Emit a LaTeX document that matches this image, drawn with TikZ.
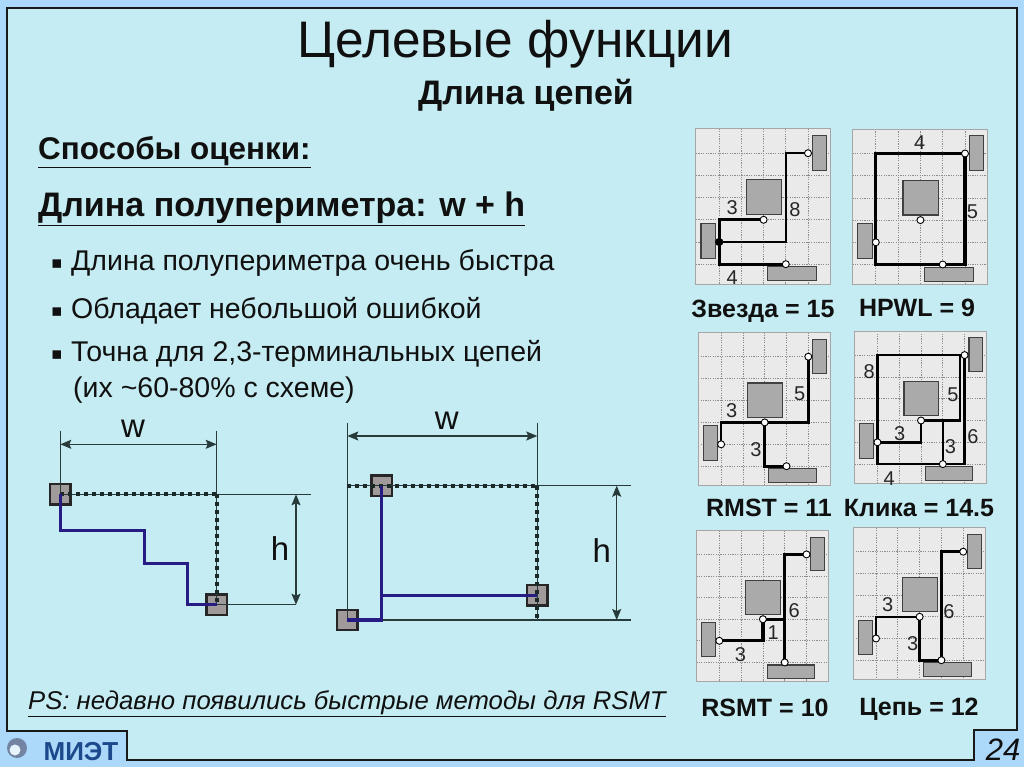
\documentclass[tikz,border=0pt]{standalone}
\usepackage{fontspec}
\setmainfont{Liberation Sans}
\newfontfamily\symfont{DejaVu Sans}
\usetikzlibrary{arrows.meta, positioning, calc}
\definecolor{bandblue}{RGB}{172,216,250}
\definecolor{slidebg}{RGB}{197,236,242}
\definecolor{inkdark}{RGB}{16,16,16}
\definecolor{dimline}{RGB}{40,58,58}
\definecolor{wireblue}{RGB}{38,28,132}
\definecolor{termgray}{RGB}{160,154,154}
\definecolor{cellbg}{RGB}{234,234,234}
\definecolor{blockgray}{RGB}{170,170,170}
\definecolor{logoblue}{RGB}{28,72,140}
\tikzset{
  txt/.style={anchor=base west,inner sep=0pt,text=inkdark},
  mid/.style={anchor=base,inner sep=0pt,text=inkdark},
  bodytxt/.style={txt,font=\fontsize{28.5}{30}\selectfont},
  bullet/.style={anchor=base,inner sep=0pt,text=inkdark,font=\symfont\fontsize{17}{17}\selectfont},
  captxt/.style={mid,font=\bfseries\fontsize{25}{27}\selectfont},
  numlab/.style={inner sep=0pt,text=black!85,font=\fontsize{20}{22}\selectfont},
  dimlab/.style={mid,font=\fontsize{33}{36}\selectfont},
  term/.style={draw=black!85,line width=2.2pt,fill=termgray,minimum size=20.5pt,inner sep=0pt},
  ext/.style={draw=dimline,line width=1.2pt},
  dimarrow/.style={draw=dimline,line width=1.2pt,{Stealth[length=11pt,width=9pt,inset=2pt]}-{Stealth[length=11pt,width=9pt,inset=2pt]}},
  bluewire/.style={draw=wireblue,line width=3.4pt,line join=miter},
  pin/.style={circle,draw=black,fill=white,line width=0.9pt,minimum size=7pt,inner sep=0pt},
  netwire/.style={draw=black,line width=2.6pt,line join=miter},
  fatwire/.style={draw=black,line width=3.2pt,line join=miter},
  block/.style={draw=black!75,line width=1.1pt,fill=blockgray},
}
% dotted measuring line
\newcommand{\dotline}[2]{%
  \draw[ext] (#1) -- (#2);
  \draw[draw=dimline!70!black,line width=3.8pt,dash pattern=on 4pt off 4pt] (#1) -- (#2);
}
% cell with blocks, grid units
\newcommand{\netpanel}[1]{%
  \fill[cellbg] (-0.05,-0.1) rectangle (6,6.9);
  \foreach \gi in {1,...,5}
    \draw[black!45,line width=0.7pt,dash pattern=on 1.2pt off 1.2pt] (\gi,-0.1) -- (\gi,6.9);
  \foreach \gj in {1,...,6}
    \draw[black!45,line width=0.7pt,dash pattern=on 1.2pt off 1.2pt] (-0.05,\gj) -- (6,\gj);
  \draw[black!35,line width=1pt] (-0.05,-0.1) rectangle (6,6.9);
  \draw[block] (5.2,0.2) rectangle (5.84,1.76);
  \draw[block] (2.22,2.2) rectangle (3.8,3.77);
  \draw[block] (0.18,4.15) rectangle (0.84,5.73);
  \draw[block] (3.19,6.12) rectangle (5.38,6.75);
  \coordinate (#1-a) at (5,1);
  \coordinate (#1-b) at (3,4);
  \coordinate (#1-c) at (1,5);
  \coordinate (#1-d) at (4,6);
}
\newcommand{\netpins}[1]{%
  \node[pin] (#1-pa) at (#1-a) {};
  \node[pin] (#1-pb) at (#1-b) {};
  \node[pin] (#1-pc) at (#1-c) {};
  \node[pin] (#1-pd) at (#1-d) {};
}

\begin{document}
\begin{tikzpicture}[x=1pt,y=-1pt,>=Stealth]
  \useasboundingbox (0,0) rectangle (1024,767);
  % slide frame
  \fill[bandblue] (0,0) rectangle (1024,767);
  \draw[black!90,line width=2pt,fill=slidebg]
    (6.5,8) -- (1017,8) -- (1017,730) -- (974,730) -- (974,759.5)
    -- (127,759.5) -- (127,730.5) -- (6.5,730.5) -- cycle;

  % headings
  \node[mid,font=\fontsize{51.4}{54}\selectfont] (title) at (515,58) {Целевые функции};
  \node[mid,font=\bfseries\fontsize{34}{36}\selectfont] (subtitle) at (526,105) {Длина цепей};
  \node[txt,font=\bfseries\fontsize{31.4}{34}\selectfont] (methods) at (38,160) {\underline{Способы оценки:}};
  \node[txt,font=\fontsize{34}{36}\selectfont] (hpwltxt) at (38,217)
    {\underline{\textbf{Длина полупериметра:} \textbf{w + h}}};

  % bullet list
  \node[bullet] (b1) at (57,268) {▪};
  \node[bodytxt] (l1) at (71,270) {Длина полупериметра очень быстра};
  \node[bullet] (b2) at (57,316) {▪};
  \node[bodytxt] (l2) at (71,318) {Обладает небольшой ошибкой};
  \node[bullet] (b3) at (57,359) {▪};
  \node[bodytxt] (l3) at (71,361) {Точна для 2,3-терминальных цепей};
  \node[bodytxt] (l4) at (73,397) {(их \textasciitilde60-80\% с схеме)};

  % left measure
  \node[term] (sqa) at (60.3,494.3) {};
  \node[term] (sqb) at (216.7,604.7) {};
  \coordinate (lefttop) at (60.3,431);
  \coordinate (righttop) at (216.7,431);
  \coordinate (corner) at (216.7,494.3);
  \coordinate (lineend) at (311,494.3);
  \coordinate (lineendb) at (296,604.7);
  \draw[ext] (lefttop) -- (sqa.center);
  \draw[ext] (righttop) -- (corner);
  \draw[ext] (corner) -- (lineend);
  \draw[ext] (sqb.center) -- (lineendb);
  \dotline{sqa.center}{corner}
  \dotline{corner}{sqb.center}
  \coordinate (wl) at (60.3,444.3);
  \coordinate (wr) at (216.7,444.3);
  \draw[dimarrow] (wl) -- (wr);
  \coordinate (ht) at (296,494.3);
  \draw[dimarrow] (ht) -- (lineendb);
  \node[dimlab] (wlab) at (133,437) {w};
  \node[dimlab] (hlab) at (280,560) {h};
  \draw[bluewire] (sqa.center) -- (60.3,530.3) -- (144.7,530.3) -- (144.7,563.7)
    -- (187.3,563.7) -- (187.3,604.7) -- (sqb.center);

  % right measure
  \node[term] (sqt) at (381.7,485.7) {};
  \node[term] (sqr) at (537.3,595.3) {};
  \node[term] (sql) at (347.3,620) {};
  \coordinate (ltop) at (347.3,423);
  \coordinate (rtop) at (537.3,423);
  \coordinate (topleft) at (347.3,485.7);
  \coordinate (rcorner) at (537.3,485.7);
  \coordinate (rbot) at (537.3,620);
  \coordinate (rline) at (631,485.7);
  \coordinate (rlineb) at (631,620);
  \draw[ext] (ltop) -- (sql.center);
  \draw[ext] (rtop) -- (rcorner);
  \draw[ext] (rcorner) -- (rline);
  \draw[ext] (sql.center) -- (rlineb);
  \dotline{topleft}{rcorner}
  \dotline{rcorner}{rbot}
  \coordinate (wl2) at (347.3,436);
  \coordinate (wr2) at (537.3,436);
  \draw[dimarrow] (wl2) -- (wr2);
  \coordinate (ht2) at (616.7,485.7);
  \coordinate (hb2) at (616.7,620);
  \draw[dimarrow] (ht2) -- (hb2);
  \node[dimlab] (wlab2) at (446.7,429) {w};
  \node[dimlab] (hlab2) at (601.7,562) {h};
  \coordinate (bend) at (381.7,620);
  \draw[bluewire] (sqt.center) -- (bend) -- (sql.center);
  \draw[bluewire] (381.7,595.3) -- (sqr.center);

  % note
  \node[txt,font=\itshape\fontsize{25.7}{28}\selectfont] (note) at (28,709)
    {\underline{PS: недавно появились быстрые методы для RSMT}};

  % star
  \begin{scope}[shift={(697,131)},x=22.2pt,y=-22.2pt]
    \netpanel{star}
    \coordinate (star-j) at (4,5);
    \draw[netwire] (star-c) |- (star-b);
    \draw[netwire] (star-c) -- (star-j) |- (star-a);
    \draw[netwire] (star-c) |- (star-d);
    \netpins{star}
    \node[pin,fill=black] (star-dot) at (star-c) {};
    \node[numlab] (s3) at (1.58,3.44) {3};
    \node[numlab] (s8) at (4.41,3.53) {8};
    \node[numlab] (s4) at (1.59,6.61) {4};
  \end{scope}

  % hpwl
  \begin{scope}[shift={(853.5,131.3)},x=22.3pt,y=-22.2pt]
    \netpanel{hp}
    \draw[fatwire] (hp-c) |- (hp-a);
    \draw[fatwire] (hp-a) |- (hp-d);
    \draw[fatwire] (hp-d) -| (hp-c);
    \netpins{hp}
    \node[numlab] (h4) at (2.97,0.53) {4};
    \node[numlab] (h5) at (5.33,3.6) {5};
  \end{scope}

  % rmst
  \begin{scope}[shift={(699.3,334.8)},x=21.8pt,y=-21.9pt]
    \netpanel{rm}
    \draw[netwire] (rm-c) |- (rm-b);
    \draw[netwire] (rm-b) -| (rm-a);
    \draw[netwire] (rm-b) |- (rm-d);
    \netpins{rm}
    \node[numlab] (r3a) at (1.49,3.48) {3};
    \node[numlab] (r5) at (4.6,2.69) {5};
    \node[numlab] (r3b) at (2.6,5.23) {3};
  \end{scope}

  % clique
  \begin{scope}[shift={(855.6,333.3)},x=21.8pt,y=-21.8pt]
    \netpanel{cl}
    \coordinate (cl-e) at (4.78,1);
    \coordinate (cl-f) at (4.78,4);
    \coordinate (cl-g) at (4,4);
    \coordinate (cl-h) at (3,5);
    \draw[netwire] (cl-c) |- (cl-a);
    \draw[netwire] (cl-a) |- (cl-d);
    \draw[netwire] (cl-d) -| (cl-c);
    \draw[netwire] (cl-e) -- (cl-f) -- (cl-b);
    \draw[netwire] (cl-b) -- (cl-h) -- (cl-c);
    \draw[netwire] (cl-g) -- (cl-d);
    \draw[fatwire] (cl-b) -- (cl-g);
    \netpins{cl}
    \node[numlab] (c8) at (0.62,1.77) {8};
    \node[numlab] (c5) at (4.46,2.8) {5};
    \node[numlab] (c3a) at (2.02,4.62) {3};
    \node[numlab] (c3b) at (4.35,5.2) {3};
    \node[numlab] (c6) at (5.38,4.72) {6};
    \node[numlab] (c4) at (1.54,6.66) {4};
  \end{scope}

  % rsmt
  \begin{scope}[shift={(697.5,532.8)},x=21.8pt,y=-21.6pt]
    \netpanel{rs}
    \coordinate (rs-j) at (4,4);
    \draw[fatwire] (rs-c) -| (rs-b);
    \draw[netwire] (rs-b) -- (rs-j);
    \draw[netwire] (rs-d) |- (rs-a);
    \netpins{rs}
    \node[numlab] (m6) at (4.43,3.61) {6};
    \node[numlab] (m1) at (3.47,4.6) {1};
    \node[numlab] (m3) at (1.97,5.64) {3};
  \end{scope}

  % chain
  \begin{scope}[shift={(854.2,530)},x=21.8pt,y=-21.7pt]
    \netpanel{ch}
    \draw[netwire] (ch-c) |- (ch-b);
    \draw[netwire] (ch-b) |- (ch-d);
    \draw[netwire] (ch-d) |- (ch-a);
    \netpins{ch}
    \node[numlab] (n3a) at (1.54,3.46) {3};
    \node[numlab] (n6) at (4.34,3.77) {6};
    \node[numlab] (n3b) at (2.68,5.23) {3};
  \end{scope}

  % captions
  \node[captxt] (capstar) at (763,317) {Звезда = 15};
  \node[captxt] (caphp) at (917,316) {HPWL = 9};
  \node[captxt] (caprm) at (769,516) {RMST = 11};
  \node[captxt] (capcl) at (919,516) {Клика = 14.5};
  \node[captxt] (caprs) at (765,716) {RSMT = 10};
  \node[captxt] (capch) at (919,715) {Цепь = 12};

  % footer
  \fill[black!30!logoblue!60] (17,748) circle (10);
  \fill[white!70!bandblue] (15,750) circle (5.5);
  \node[mid,font=\bfseries\fontsize{26}{28}\selectfont,text=logoblue] (logo) at (81,760) {МИЭТ};
  \node[mid,font=\itshape\fontsize{31}{33}\selectfont] (pageno) at (1003,760) {24};
\end{tikzpicture}
\end{document}
